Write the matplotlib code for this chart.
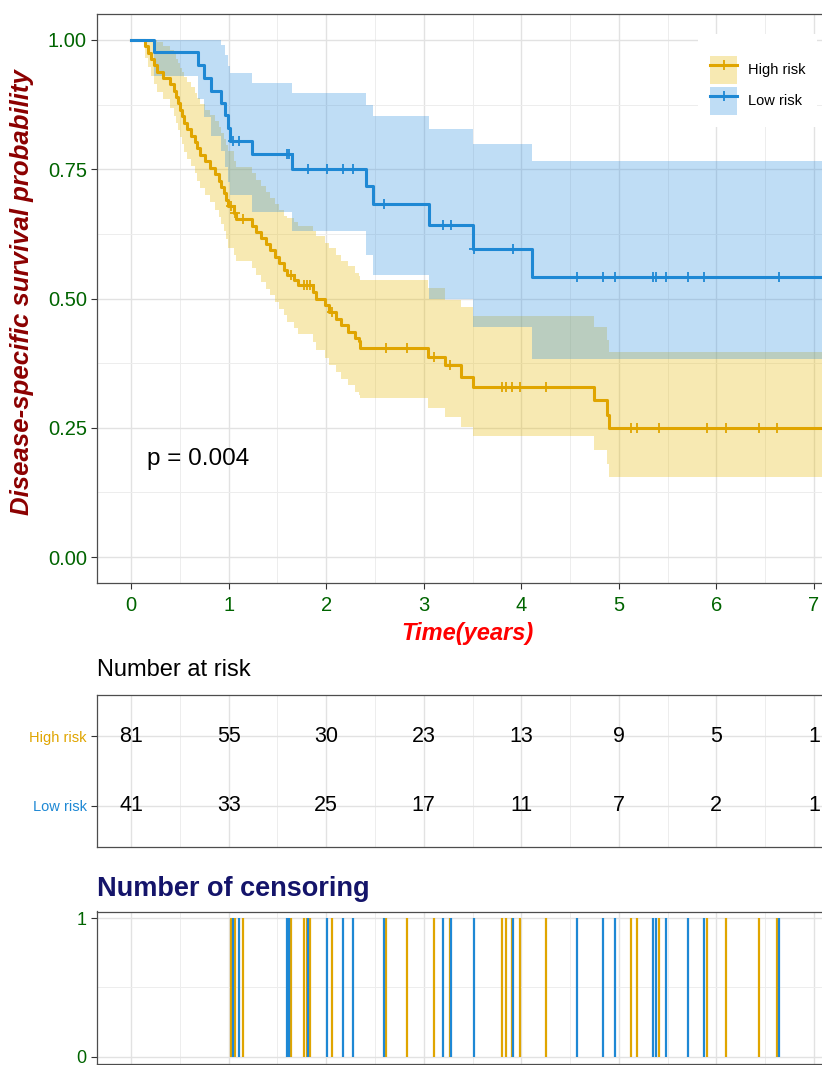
import numpy as np
import matplotlib
matplotlib.use('Agg')
import matplotlib.pyplot as plt
from matplotlib.patches import Patch
from matplotlib.lines import Line2D
from matplotlib.ticker import MultipleLocator

plt.rcParams['font.family'] = ['Liberation Sans', 'DejaVu Sans']

# ---- data ----
groups = ['High risk', 'Low risk']

# High risk: KM steps (time in years, survival after step) and CI band
high_time = [0, 0.14, 0.17, 0.205, 0.235, 0.27, 0.33, 0.40, 0.44, 0.46, 0.48, 0.50, 0.525,
             0.545, 0.575, 0.61, 0.65, 0.68, 0.71, 0.76, 0.81, 0.86, 0.90, 0.92, 0.95, 0.97,
             0.99, 1.05, 1.08, 1.24, 1.28, 1.33, 1.38, 1.42, 1.48, 1.52, 1.57, 1.60, 1.67,
             1.71, 1.86, 1.90, 1.99, 2.03, 2.10, 2.15, 2.22, 2.30, 2.34, 2.35, 3.04, 3.22,
             3.38, 3.51, 4.75, 4.88, 4.90]
high_surv = [1.0, .988, .975, .963, .951, .938, .926, .914, .901, .889, .877, .864, .852,
             .840, .827, .815, .802, .790, .778, .765, .753, .741, .728, .716, .704, .691,
             .679, .666, .654, .641, .629, .617, .605, .593, .580, .568, .556, .545, .535,
             .526, .513, .500, .487, .474, .461, .448, .436, .423, .417, .404, .387, .371,
             .349, .328, .304, .275, .249]
high_upper = [1.0, 1.0, 1.0, 1.0, 1.0, .995, .988, .980, .972, .963, .955, .946, .937,
              .928, .918, .908, .897, .887, .876, .865, .854, .843, .832, .820, .809, .797,
              .785, .765, .755, .742, .730, .718, .706, .695, .683, .671, .660, .655, .647,
              .640, .630, .620, .608, .597, .585, .573, .562, .550, .543, .536, .520, .498,
              .484, .466, .445, .420, .397]
high_lower = [1.0, .965, .947, .930, .915, .900, .885, .868, .853, .840, .826, .812, .798,
              .784, .770, .756, .742, .728, .714, .700, .686, .672, .658, .644, .630, .615,
              .598, .585, .572, .558, .545, .532, .519, .506, .493, .480, .468, .455, .443,
              .432, .415, .400, .385, .371, .358, .345, .332, .320, .313, .307, .288, .271,
              .252, .234, .207, .180, .154]
high_cens = [1.02, 1.07, 1.15, 1.64, 1.77, 1.80, 1.83, 2.06, 2.61, 2.825, 3.11, 3.27, 3.80,
             3.84, 3.90, 3.99, 4.25, 5.12, 5.19, 5.41, 5.90, 6.10, 6.44, 6.62]

# Low risk
low_time = [0, 0.235, 0.69, 0.75, 0.82, 0.92, 0.96, 0.99, 1.01, 1.24, 1.645, 2.41, 2.48,
            3.05, 3.51, 4.11]
low_surv = [1.0, .976, .951, .927, .902, .878, .854, .829, .805, .779, .751, .718, .682,
            .642, .595, .542]
low_upper = [1.0, 1.0, 1.0, 1.0, 1.0, .99, .97, .95, .936, .917, .898, .875, .852, .827,
             .798, .765]
low_lower = [1.0, .93, .885, .85, .815, .785, .755, .725, .70, .668, .63, .585, .545, .50,
             .445, .384]
low_cens = [1.04, 1.11, 1.60, 1.62, 1.81, 2.01, 2.17, 2.27, 2.59, 3.20, 3.275, 3.52, 3.92,
            4.57, 4.84, 4.96, 5.35, 5.38, 5.48, 5.71, 5.875, 6.64]

# number at risk table
risk_times = [0, 1, 2, 3, 4, 5, 6, 7]
high_at_risk = [81, 55, 30, 23, 13, 9, 5, 1]
low_at_risk = [41, 33, 25, 17, 11, 7, 2, 1]

p_text = 'p = 0.004'

# ---- style ----
LINE_COL = {'High risk': '#E0A500', 'Low risk': '#1E88D4'}
FILL_COL = {'High risk': '#E7B800', 'Low risk': '#2E8FDF'}
TICK_COL = '#006400'
T_END = 7.4
XLIM = (-0.35, 7.35)

W, H = 822, 1065


def fig_box(left, top, right, bottom):
    # pixel box -> figure fraction
    return [left / W, 1 - bottom / H, (right - left) / W, (bottom - top) / H]


def style_axes(ax):
    ax.grid(which='major', color='#E2E2E2', lw=1.0)
    ax.grid(which='minor', color='#EDEDED', lw=0.7)
    ax.set_axisbelow(True)
    for sp in ax.spines.values():
        sp.set_color('#4D4D4D')
        sp.set_linewidth(0.9)
    ax.tick_params(which='major', length=4.3, width=0.8, color='#333333')
    ax.tick_params(which='minor', length=0)
    ax.set_xlim(*XLIM)
    ax.xaxis.set_major_locator(MultipleLocator(1))
    ax.xaxis.set_minor_locator(MultipleLocator(0.5))


def ext(t, v):
    return np.append(t, T_END), np.append(v, v[-1])


def surv_at(t, v, x):
    idx = np.searchsorted(t, x, side='right') - 1
    return np.asarray(v)[idx]


fig = plt.figure(figsize=(W / 100, H / 100), dpi=100)

# ---- survival curves ----
ax = fig.add_axes(fig_box(97, 14, 848, 583))
style_axes(ax)
ax.set_ylim(-0.05, 1.05)
ax.yaxis.set_major_locator(MultipleLocator(0.25))
ax.yaxis.set_minor_locator(MultipleLocator(0.125))
ax.yaxis.set_major_formatter(lambda v, pos: f'{v:.2f}')

curves = {
    'High risk': (high_time, high_surv, high_lower, high_upper, high_cens),
    'Low risk': (low_time, low_surv, low_lower, low_upper, low_cens),
}

for g in groups:
    t, s, lo, up, cens = curves[g]
    tt, ll = ext(t, lo)
    _, uu = ext(t, up)
    ax.fill_between(tt, ll, uu, step='post', color=FILL_COL[g], alpha=0.3, lw=0)

for g in groups:
    t, s, lo, up, cens = curves[g]
    tt, ss = ext(t, s)
    ax.step(tt, ss, where='post', color=LINE_COL[g], lw=2.2)
    ax.plot(cens, surv_at(t, s, cens), ls='none', marker='+', ms=7.5, mew=1.3,
            color=LINE_COL[g])

ax.tick_params(axis='both', labelsize=14.5, labelcolor=TICK_COL)
ax.tick_params(axis='x', pad=5)
ax.tick_params(axis='y', pad=3)

ax.text(0.16, 0.19, p_text, fontsize=17.5, va='center', ha='left')

handles = [(Patch(facecolor=FILL_COL[g], alpha=0.3, lw=0),
            Line2D([], [], color=LINE_COL[g], lw=2.2, marker='+', ms=7.5, mew=1.3))
           for g in groups]
leg = ax.legend(handles, groups, loc='upper left', bbox_to_anchor=(698 / W, 1 - 34 / H),
                bbox_transform=fig.transFigure, borderaxespad=0, frameon=True,
                facecolor='white', edgecolor='none', framealpha=1, fancybox=False,
                borderpad=0.8, handlelength=1.9, handleheight=2.6, labelspacing=0.2,
                handletextpad=0.75, fontsize=10.5, title=' ', title_fontsize=6)

fig.text(22 / W, 1 - 292 / H, 'Disease-specific survival probability', rotation=90,
         ha='center', va='center', fontsize=18.5, fontweight='bold', fontstyle='italic',
         color='#8B0000')
fig.text(467 / W, 1 - 640 / H, 'Time(years)', ha='center', va='baseline', fontsize=17,
         fontweight='bold', fontstyle='italic', color='red')

# ---- number at risk table ----
fig.text(97 / W, 1 - 676 / H, 'Number at risk', ha='left', va='baseline', fontsize=17)
rax = fig.add_axes(fig_box(97, 695, 848, 847))
style_axes(rax)
rax.set_ylim(0.41, 2.59)
rax.set_yticks([2, 1])
rax.set_yticklabels(groups)
for lab, g in zip(rax.get_yticklabels(), groups):
    lab.set_color(LINE_COL[g])
rax.tick_params(axis='y', labelsize=10.5, pad=3)
rax.tick_params(axis='x', length=0, labelbottom=False)
rax.grid(which='major', axis='y', color='#E2E2E2', lw=1.0)
for x, n in zip(risk_times, high_at_risk):
    rax.text(x, 2, str(n), ha='center', va='center', fontsize=15.5)
for x, n in zip(risk_times, low_at_risk):
    rax.text(x, 1, str(n), ha='center', va='center', fontsize=15.5)

# ---- number of censoring ----
fig.text(97 / W, 1 - 896 / H, 'Number of censoring', ha='left', va='baseline',
         fontsize=19.5, fontweight='bold', color='#14146A')
cax = fig.add_axes(fig_box(97, 911.5, 848, 1063.5))
style_axes(cax)
cax.set_ylim(-0.05, 1.05)
cax.set_yticks([0, 1])
cax.yaxis.set_minor_locator(MultipleLocator(0.5))
cax.tick_params(axis='y', labelsize=13, labelcolor=TICK_COL, pad=3)
cax.tick_params(axis='x', labelbottom=False)
cax.vlines(high_cens, 0, 1, color=LINE_COL['High risk'], lw=1.6)
cax.vlines(low_cens, 0, 1, color=LINE_COL['Low risk'], lw=1.6)

fig.savefig('out.png', dpi=100)
